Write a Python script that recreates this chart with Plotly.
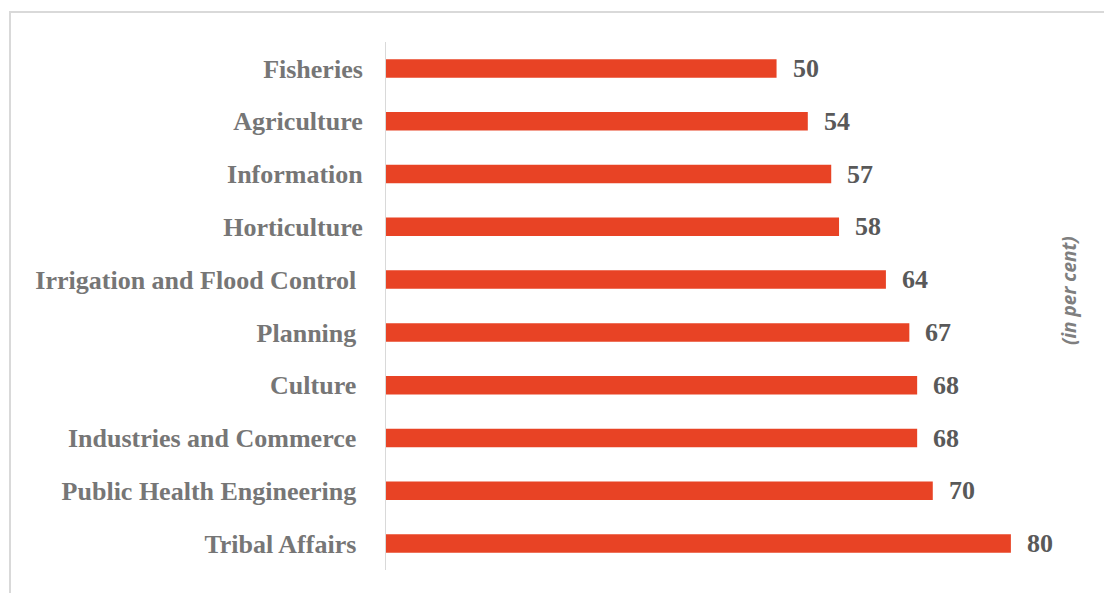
import plotly.graph_objects as go

# Departments (top to bottom) and their share, in per cent
departments = [
    "Fisheries",
    "Agriculture",
    "Information",
    "Horticulture",
    "Irrigation and Flood Control\u00a0",
    "Planning\u00a0",
    "Culture\u00a0",
    "Industries and Commerce\u00a0",
    "Public Health Engineering\u00a0",
    "Tribal Affairs\u00a0",
]
values = [50, 54, 57, 58, 64, 67, 68, 68, 70, 80]

BAR_COLOR = "#E84325"
LABEL_GREY = "#767676"
VALUE_GREY = "#595959"
SERIF = "Liberation Serif, Times New Roman, serif"

fig = go.Figure(
    go.Bar(
        x=values,
        y=departments,
        orientation="h",
        marker=dict(color=BAR_COLOR, line=dict(width=0)),
        width=0.35,
        hoverinfo="x+y",
    )
)

# Value labels to the right of each bar
for dept, val in zip(departments, values):
    fig.add_annotation(
        x=val, y=dept, text=str(val), showarrow=False,
        xanchor="left", yanchor="middle", xshift=14,
        font=dict(family=SERIF, size=26, color=VALUE_GREY, weight="bold"),
    )

# Unit note on the right side
fig.add_annotation(
    xref="paper", yref="paper", x=1, y=0.5,
    xanchor="center", yanchor="middle", xshift=-20, yshift=15,
    text="(in per cent)", textangle=-90, showarrow=False,
    font=dict(family="Open Sans, sans-serif", size=19, color="#7F7F7F",
              style="italic", weight="bold"),
)

# Light frame around the chart area (top and left edges visible)
fig.add_shape(
    type="rect", xref="paper", yref="paper",
    xsizemode="pixel", ysizemode="pixel", xanchor=0, yanchor=0,
    x0=-376, x1=900, y0=-200, y1=558,
    line=dict(color="#D9D9D9", width=2), fillcolor="rgba(0,0,0,0)", layer="below",
)

fig.update_layout(
    width=1104, height=593,
    margin=dict(l=386, r=15, t=42, b=23),
    paper_bgcolor="white", plot_bgcolor="white",
    showlegend=False,
    xaxis=dict(range=[0, 90], visible=False, fixedrange=True),
    yaxis=dict(
        autorange="reversed",
        showgrid=False, zeroline=False,
        showline=True, linecolor="#D9D9D9", linewidth=1,
        ticks="", ticklabelstandoff=17,
        tickfont=dict(family=SERIF, size=26, color=LABEL_GREY, weight="bold"),
    ),
)

fig.write_html("out.html")
